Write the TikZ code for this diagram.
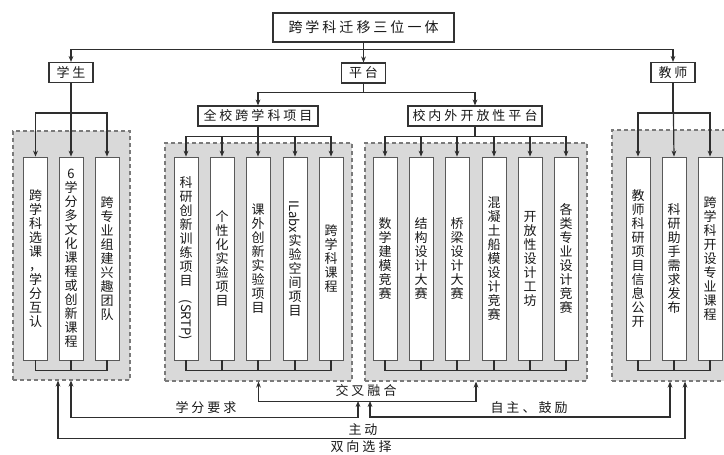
\documentclass[tikz,border=0pt]{standalone}
\usepackage{fontspec}
\usepackage{graphicx}
\newfontfamily\cjk{Noto Sans CJK SC}
\usepackage{tikz}
\usetikzlibrary{calc,arrows.meta}
\definecolor{groupfill}{HTML}{D9D9D9}
\definecolor{groupline}{HTML}{7A7A7A}
\definecolor{wire}{HTML}{2E2E2E}
\newcommand{\Px}{0.75pt}
\newcommand{\Gap}{2.25pt}
% one character per line
\newcommand{\vchars}[1]{\vcharsA#1\relax}
\def\vcharsA#1{#1\vcharsB}
\def\vcharsB#1{\ifx#1\relax\else\\#1\expandafter\vcharsB\fi}
% spaced characters on one line
\newcommand{\hchars}[1]{\hcharsA#1\relax}
\def\hcharsA#1{#1\hcharsB}
\def\hcharsB#1{\ifx#1\relax\else\hspace{\Gap}#1\expandafter\hcharsB\fi}
\newcommand{\srtp}{\rotatebox{-90}{(SRTP)}}
\newcommand{\ilabx}{\rotatebox{-90}{ILabx}}
\tikzset{Col/.style={
    draw=black!65,
    line width=0.6pt,
    fill=white,
    inner sep=0pt,
    text width=10pt,
    minimum width=24*\Px,
    minimum height=203*\Px,
    align=center,
    text=black!90,
    font=\cjk\fontsize{9.75}{10.5}\selectfont,
    }
}
\tikzset{Tag/.style={
    draw=black!80,
    line width=0.8pt,
    fill=white,
    inner sep=0pt,
    minimum height=20*\Px,
    text=black!90,
    font=\cjk\fontsize{9.75}{12}\selectfont,
    }
}

\begin{document}
\begin{tikzpicture}[draw=wire, line width=0.9pt, x=\Px, y=-\Px,
    Group/.style={draw=groupline, fill=groupfill, dash pattern=on 3pt off 2.25pt,
        line width=0.9pt, inner sep=0pt},
    Lbl/.style={inner sep=0pt, text=black!90, font=\cjk\fontsize{9.75}{12}\selectfont},
    Arr/.style={-{Stealth[length=4.5pt,width=3.6pt]}},
    Both/.style={{Stealth[length=4.5pt,width=3.6pt]}-{Stealth[length=4.5pt,width=3.6pt]}},
]
\useasboundingbox (0,0) rectangle (724,454);
\clip (0,0) rectangle (724,454);
% grey groups
\node [Group, minimum width=117*\Px, minimum height=249*\Px] (gs) at (71.5,255.5) {};
\node [Group, minimum width=187*\Px, minimum height=238*\Px] (gp) at (258.5,262) {};
\node [Group, minimum width=222*\Px, minimum height=238*\Px] (go) at (476,262) {};
\node [Group, minimum width=124*\Px, minimum height=251*\Px] (gt) at (674,255.5) {};
% headings
\node [Tag, line width=1pt, minimum width=181*\Px, minimum height=29*\Px,
    font=\cjk\fontsize{10.5}{12}\selectfont] (top) at (363.5,27.5) {\hchars{跨学科迁移三位一体}};
\node [Tag, minimum width=44*\Px] (stu) at (71,72.5) {\hchars{学生}};
\node [Tag, minimum width=44*\Px] (plat) at (363.5,73) {\hchars{平台}};
\node [Tag, minimum width=44*\Px] (tea) at (673,72.5) {\hchars{教师}};
\node [Tag, minimum width=120*\Px] (proj) at (258,116) {\hchars{全校跨学科项目}};
\node [Tag, minimum width=134*\Px] (open) at (475,116) {\hchars{校内外开放性平台}};
% student columns
\node [Col] (s1) at (35.5,258.5) {\vchars{跨学科选课，学分互认}};
\node [Col] (s2) at (71,258.5) {\vchars{6学分多文化课程或创新课程}};
\node [Col] (s3) at (107,258.5) {\vchars{跨专业组建兴趣团队}};
% school projects
\node [Col] (p1) at (186,258.5) {\vchars{科研创新训练项目\srtp}};
\node [Col] (p2) at (222,258.5) {\vchars{个性化实验项目}};
\node [Col] (p3) at (258,258.5) {\vchars{课外创新实验项目}};
\node [Col] (p4) at (295,258.5) {\vchars{\ilabx 实验空间项目}};
\node [Col] (p5) at (331,258.5) {\vchars{跨学科课程}};
% open platforms
\node [Col] (o1) at (385,258.5) {\vchars{数学建模竞赛}};
\node [Col] (o2) at (421,258.5) {\vchars{结构设计大赛}};
\node [Col] (o3) at (457,258.5) {\vchars{桥梁设计大赛}};
\node [Col] (o4) at (494,258.5) {\vchars{混凝土船模设计竞赛}};
\node [Col] (o5) at (530,258.5) {\vchars{开放性设计工坊}};
\node [Col] (o6) at (566,258.5) {\vchars{各类专业设计竞赛}};
% teacher columns
\node [Col] (t1) at (638,258.5) {\vchars{教师科研项目信息公开}};
\node [Col] (t2) at (674,258.5) {\vchars{科研助手需求发布}};
\node [Col] (t3) at (710,258.5) {\vchars{跨学科开设专业课程}};
% labels under the groups
\node [Lbl] (mix) at (366,391) {\hchars{交叉融合}};
\node [Lbl] (credit) at (206,408) {\hchars{学分要求}};
\node [Lbl] (self) at (529,408) {\hchars{自主、鼓励}};
\node [Lbl] (active) at (363,429.5) {\hchars{主动}};
\node [Lbl] (choice) at (361,447) {\hchars{双向选择}};
\coordinate (mx1) at (358,401);
\coordinate (mx2) at (370,401);

\draw [Arr] (top.south) -- ++(0,7) -| (stu.north);
\draw [Arr] (top.south) -- (plat.north);
\draw [Arr] (top.south) -- ++(0,7) -| (tea.north);
\draw [Arr] (plat.south) -- ++(0,9) -| (proj.north);
\draw [Arr] (plat.south) -- ++(0,9) -| (open.north);

\draw [Arr] (stu.south) -- ++(0,30) -| (s1.north);
\draw [Arr] (stu.south) -- (s2.north);
\draw [Arr] (stu.south) -- ++(0,30) -| (s3.north);
\draw [Arr] (proj.south) -- ++(0,10) -| (p1.north);
\draw [Arr] (proj.south) -- ++(0,10) -| (p2.north);
\draw [Arr] (proj.south) -- (p3.north);
\draw [Arr] (proj.south) -- ++(0,10) -| (p4.north);
\draw [Arr] (proj.south) -- ++(0,10) -| (p5.north);
\draw [Arr] (open.south) -- ++(0,10) -| (o1.north);
\draw [Arr] (open.south) -- ++(0,10) -| (o2.north);
\draw [Arr] (open.south) -- ++(0,10) -| (o3.north);
\draw [Arr] (open.south) -- ++(0,10) -| (o4.north);
\draw [Arr] (open.south) -- ++(0,10) -| (o5.north);
\draw [Arr] (open.south) -- ++(0,10) -| (o6.north);
\draw [Arr] (tea.south) -- ++(0,30) -| (t1.north);
\draw [Arr] (tea.south) -- (t2.north);
\draw [Arr] (tea.south) -- ++(0,30) -| (t3.north);

% brackets under the columns
\draw (s1.south) -- ++(0,10) -| (s3.south) (s2.south) -- ++(0,10);
\draw (p1.south) -- ++(0,10) -| (p5.south) (p2.south) -- ++(0,10)
    (p3.south) -- ++(0,10) (p4.south) -- ++(0,10);
\draw (o1.south) -- ++(0,10) -| (o6.south) (o2.south) -- ++(0,10)
    (o3.south) -- ++(0,10) (o4.south) -- ++(0,10) (o5.south) -- ++(0,10);
\draw (t1.south) -- ++(0,10) -| (t3.south) (t2.south) -- ++(0,10);

\draw [Both] (gp.south) -- ++(0,20) -| (go.south);
\draw [Both] (s2 |- gs.south) -- ++(0,37) -| (mx1);
\draw [Both] (mx2) -- ++(0,16) -| ($(gt.south)+(-4,0)$);
\draw [Both] ($(gs.south)+(-13.5,0)$) -- ++(0,58) -| ($(gt.south)+(11,0)$);
\end{tikzpicture}
\end{document}
